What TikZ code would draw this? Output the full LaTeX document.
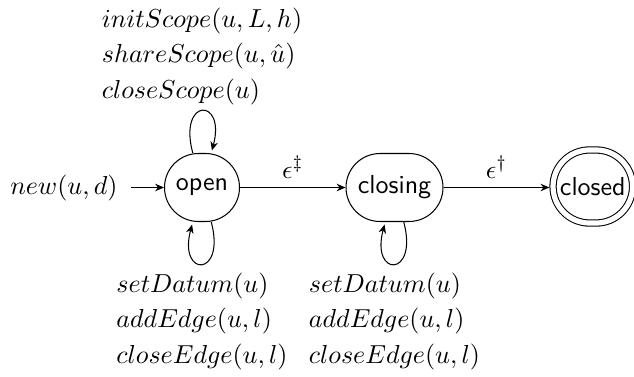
\documentclass[tikz,border=0pt]{standalone}
\usetikzlibrary{arrows.meta}
\begin{document}
\begin{tikzpicture}[x=0.3846pt,y=0.3846pt,
  st/.style={draw, rectangle, rounded corners=13.07pt,
    font=\sffamily, minimum height=26.15pt, inner sep=0pt},
  >={Stealth[length=3.4pt,width=2.9pt,inset=1.1pt]},
  lbl/.style={align=left, font=\fontsize{10}{13.6}\selectfont},
  every edge/.style={draw}
]
\useasboundingbox (0,0) rectangle (634,376);
\node[st, minimum width=28.85pt] (open) at (202,188.5) {open};
\node[st, minimum width=37.3pt] (closing) at (394.5,188.5) {closing};
\node[st, double, double distance=2pt, outer sep=1.4pt, rounded corners=14.05pt,
      minimum width=30.6pt, minimum height=28.1pt] (closed) at (592.8,189.5) {closed};
\node[anchor=east, inner xsep=5pt] (newl) at (131,188.5) {$new(u,d)$};

\draw[->] (newl) -- (open);
\draw[->] (open) -- node[above] {$\epsilon^{\ddagger}$} (closing);
\draw[->] (closing) -- node[above] {$\epsilon^{\dagger}$} (closed.west |- closing);

\path[->] (open) edge[loop above] node[lbl, above, yshift=-1.1pt]
  {$initScope(u,L,h)$\\$shareScope(u,\hat{u})$\\$closeScope(u)$} ();
\path[->] (open) edge[loop below] node[lbl, below]
  {$setDatum(u)$\\$addEdge(u,l)$\\$closeEdge(u,l)$} ();
\path[->] (closing) edge[loop below] node[lbl, below]
  {$setDatum(u)$\\$addEdge(u,l)$\\$closeEdge(u,l)$} ();
\end{tikzpicture}
\end{document}
